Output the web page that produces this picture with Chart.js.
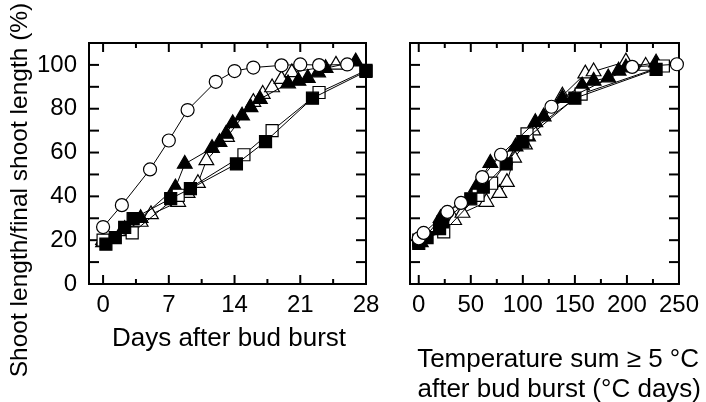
<!DOCTYPE html>
<html><head><meta charset="utf-8">
<script src="https://cdn.jsdelivr.net/npm/chart.js@4.4.0/dist/chart.umd.min.js"></script>
<style>
html,body{margin:0;padding:0;background:#fff;}
#wrap{position:relative;width:706px;height:402px;overflow:hidden;background:#fff;}
canvas{position:absolute;top:0;left:0;}
</style></head><body>
<div id="wrap"><canvas id="cL" width="706" height="402"></canvas><canvas id="cR" width="706" height="402"></canvas></div>
<script>
// ---------- Data: left panel (days after bud burst) ----------
const circleDaysL = [0, 2, 5, 7, 9, 12, 14, 16, 19, 21, 23, 26];
const circleValsL = [26, 36, 52.3, 65.5, 79.4, 92.3, 97.2, 98.8, 99.8, 100.2, 99.9, 100.2];
const fTriDaysL = [0, 2.3, 4.0, 7.7, 8.7, 11.6, 12.4, 13.1, 13.8, 14.8, 15.7, 16.7, 19.7, 20.8, 21.8, 22.9, 23.7, 26.9];
const fTriValsL = [19, 25, 30, 44, 54.8, 62, 64.7, 68.5, 73.3, 76.8, 80.6, 84.4, 91.5, 92.7, 94, 96.5, 98.5, 101.5];
const oTriDaysL = [0, 2, 4.0, 5.1, 8.0, 9.0, 10.1, 11.0, 13.2, 16.0, 17.0, 18.0, 19.0, 20.1, 24.8];
const oTriValsL = [20, 24, 28.3, 31.8, 37.4, 41.5, 46, 56.4, 67, 83, 86.7, 89.7, 93.5, 96.6, 100];
const fSqDaysL = [0.3, 1.3, 2.3, 3.2, 7.2, 9.3, 14.2, 17.3, 22.3, 28];
const fSqValsL = [18.2, 21.2, 25.8, 29.8, 39, 43.5, 54.8, 65, 84.8, 97];
const oSqDaysL = [0, 3.1, 8, 15, 18, 23, 28];
const oSqValsL = [20, 23.3, 40.5, 59, 70, 87.4, 97.5];

// ---------- Data: right panel (temperature sum, degree days) ----------
const circleTempR = [0, 4.7, 27.5, 40.6, 61, 79, 127.5, 205, 248];
const circleValsR = [20.8, 23.3, 32.9, 37, 48.8, 59, 80.9, 99.1, 100.3];
const fTriTempR = [2, 21, 55, 68.8, 93, 105, 112, 120, 138, 157, 168, 182, 192, 199, 228];
const fTriValsR = [19, 30, 44, 55.2, 62.7, 67.3, 73.8, 76.4, 84.8, 90.5, 92.7, 94.2, 97.3, 98.8, 101];
const oTriTempR = [34, 42, 65, 77.5, 84.7, 91.6, 102, 110, 138, 160, 168, 199, 218];
const oTriValsR = [29.1, 32.4, 37.4, 41.5, 46.5, 57.6, 63.6, 70, 85.9, 96, 97, 101.5, 99.5];
const fSqTempR = [0, 8, 20, 23, 50, 62, 84, 100, 150, 228];
const fSqValsR = [18.5, 21.2, 25.3, 28.3, 38.9, 44.2, 54.8, 65, 84.8, 98];
const oSqTempR = [0, 24, 57, 70, 104, 156, 235];
const oSqValsR = [20, 23.8, 40.5, 46, 68.5, 86.7, 99.5];

// ---------- Axis ticks ----------
const xTicksL = [0, 7, 14, 21, 28];
const xMinorL = [3.5, 10.5, 17.5, 24.5];
const xTicksR = [0, 50, 100, 150, 200, 250];
const xMinorR = [25, 75, 125, 175, 225];
const yTicks = [0, 20, 40, 60, 80, 100];
const yMinor = [10, 30, 50, 70, 90];

const FONT = "'Liberation Sans', Arial, sans-serif";

function pts(xs, ys){ return xs.map((v,i)=>({x:v, y:ys[i]})); }

function ds(data, style, fill, r){
  return {data, showLine:true, borderColor:'#000', borderWidth:1,
    pointStyle:style, pointRadius:r, pointHoverRadius:r,
    pointBackgroundColor: fill ? '#000' : '#fff', pointBorderColor:'#000', pointBorderWidth:1.2,
    clip:false};
}

const framePlugin = {
  id:'frame',
  beforeDatasetsDraw(chart, args, o){
    const {ctx, chartArea:a, scales:{x, y}} = chart;
    ctx.save();
    ctx.strokeStyle = '#000';
    ctx.lineWidth = 2;
    const seg=(x1,y1,x2,y2)=>{ctx.beginPath();ctx.moveTo(x1,y1);ctx.lineTo(x2,y2);ctx.stroke();};
    o.xMajor.forEach(v=>{const p=x.getPixelForValue(v); seg(p,a.bottom,p,a.bottom-9); seg(p,a.top,p,a.top+9);});
    o.xMinor.forEach(v=>{const p=x.getPixelForValue(v); seg(p,a.bottom,p,a.bottom-5); seg(p,a.top,p,a.top+5);});
    yTicks.concat(yMinor).forEach(v=>{const p=y.getPixelForValue(v); seg(a.left,p,a.left+10,p); seg(a.right,p,a.right-10,p);});
    ctx.strokeRect(a.left, a.top, a.right-a.left, a.bottom-a.top);
    ctx.restore();
  },
  afterDraw(chart, args, o){
    const ctx = chart.ctx;
    ctx.save();
    ctx.fillStyle = '#000';
    (o.texts||[]).forEach(t=>{
      ctx.save();
      ctx.font = t.size + 'px ' + FONT;
      ctx.textAlign = t.align || 'center';
      ctx.textBaseline = 'alphabetic';
      ctx.translate(t.x, t.y);
      if (t.rot) ctx.rotate(t.rot);
      ctx.fillText(t.text, 0, 0);
      ctx.restore();
    });
    ctx.restore();
  }
};

function makeChart(id, cfg){
  return new Chart(document.getElementById(id), {
    type:'scatter',
    data:{datasets:cfg.datasets},
    options:{
      responsive:false, animation:false, events:[],
      layout:{padding:{left:0, right:cfg.padRight, top:43, bottom:0}},
      plugins:{legend:{display:false}, tooltip:{enabled:false},
        frame:{xMajor:cfg.xTicks, xMinor:cfg.xMinor, texts:cfg.texts}},
      scales:{
        x:{type:'linear', min:cfg.xmin, max:cfg.xmax,
          afterBuildTicks:s=>{s.ticks = cfg.xTicks.map(v=>({value:v}));},
          afterFit:s=>{s.height = 118;},
          grid:{display:false, drawTicks:false}, border:{display:false},
          ticks:{color:'#000', padding:7, maxRotation:0, font:{family:FONT, size:24}}},
        y:{type:'linear', min:0, max:110,
          afterBuildTicks:s=>{s.ticks = yTicks.map(v=>({value:v}));},
          afterFit:s=>{s.width = cfg.yWidth;},
          grid:{display:false, drawTicks:false}, border:{display:false},
          ticks:{display:cfg.yLabels, color:'#000', padding:12, font:{family:FONT, size:24}}}
      }
    },
    plugins:[framePlugin]
  });
}

makeChart('cL', {
  xmin:-1.5, xmax:28, xTicks:xTicksL, xMinor:xMinorL, padRight:706-366, yWidth:89, yLabels:true,
  datasets:[
    ds(pts(circleDaysL, circleValsL), 'circle', false, 6.5),
    ds(pts(fSqDaysL, fSqValsL), 'rect', true, 8.5),
    ds(pts(oSqDaysL, oSqValsL), 'rect', false, 8.5),
    ds(pts(fTriDaysL, fTriValsL), 'triangle', true, 8.5),
    ds(pts(oTriDaysL, oTriValsL), 'triangle', false, 8.5)
  ],
  texts:[
    {text:'Shoot length/final shoot length (%)', x:27, y:190, size:24.5, rot:-Math.PI/2},
    {text:'Days after bud burst', x:229, y:346, size:26}
  ]
});

makeChart('cR', {
  xmin:-8.4, xmax:250, xTicks:xTicksR, xMinor:xMinorR, padRight:706-686, yWidth:410, yLabels:false,
  datasets:[
    ds(pts(circleTempR, circleValsR), 'circle', false, 6.5),
    ds(pts(fSqTempR, fSqValsR), 'rect', true, 8.5),
    ds(pts(oSqTempR, oSqValsR), 'rect', false, 8.5),
    ds(pts(fTriTempR, fTriValsR), 'triangle', true, 8.5),
    ds(pts(oTriTempR, oTriValsR), 'triangle', false, 8.5)
  ],
  texts:[
    {text:'Temperature sum \u2265 5 \u00B0C', x:699, y:367, size:26, align:'right'},
    {text:'after bud burst (\u00B0C days)', x:701, y:397, size:26, align:'right'}
  ]
});
</script>
</body></html>
